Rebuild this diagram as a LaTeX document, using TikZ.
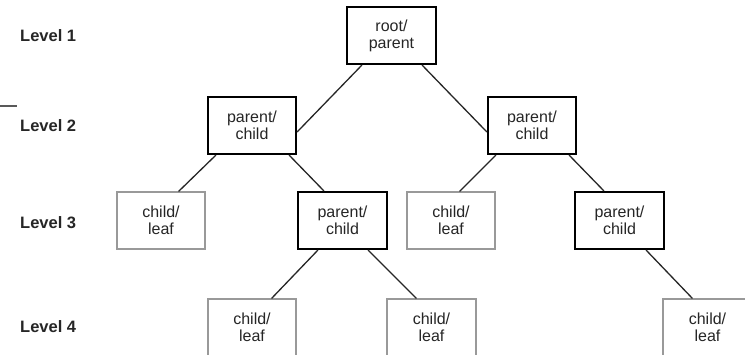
\documentclass[tikz,border=0pt]{standalone}
\usepackage{fontspec}
\setmainfont{Liberation Sans}
\usetikzlibrary{calc}
\begin{document}
\begin{tikzpicture}[x=1pt,y=-1pt,
  parentbox/.style={draw=black,line width=2.2pt,minimum width=88pt,minimum height=57pt,inner sep=0pt,align=center,font=\fontsize{16}{17}\selectfont,text=black!85},
  leafbox/.style={draw=black!40,line width=1.2pt,minimum width=88pt,minimum height=57pt,inner sep=0pt,align=center,font=\fontsize{16}{17}\selectfont,text=black!85},
  levellabel/.style={anchor=west,inner sep=0pt,font=\fontsize{16.5}{18}\selectfont\bfseries,text=black!85},
  conn/.style={draw=black!85,line width=1.3pt}]
\useasboundingbox (0,0) rectangle (745,354);
\clip (0,0) rectangle (745,354);
\fill[white] (0,0) rectangle (745,354);
% stray mark at left
\coordinate (m1) at (0,106);
\coordinate (m2) at (17,106);
\draw[black!65,line width=2pt] (m1) -- (m2);
% level labels
\node[levellabel] (lv1) at (20,36) {Level 1};
\node[levellabel] (lv2) at (20,126) {Level 2};
\node[levellabel] (lv3) at (20,222.5) {Level 3};
\node[levellabel] (lv4) at (20,327) {Level 4};
% boxes
\node[parentbox,minimum width=89pt] (root) at (391.5,35.5) {root/\\parent};
\node[parentbox] (l2a) at (252,125.5) {parent/\\child};
\node[parentbox] (l2b) at (532,125.5) {parent/\\child};
\node[leafbox] (l3a) at (161,220.5) {child/\\leaf};
\node[parentbox,minimum width=89pt] (l3b) at (342.5,220.5) {parent/\\child};
\node[leafbox] (l3c) at (451,220.5) {child/\\leaf};
\node[parentbox,minimum width=89pt] (l3d) at (619.5,220.5) {parent/\\child};
\node[leafbox] (l4a) at (252,327.5) {child/\\leaf};
\node[leafbox,minimum width=89pt] (l4b) at (431.5,327.5) {child/\\leaf};
\node[leafbox,minimum width=89pt] (l4c) at (707.5,327.5) {child/\\leaf};
% connectors
\draw[conn] ($(root.south west)+(16,0)$) -- ($(l2a.east)+(0,6.5)$);
\draw[conn] ($(root.south east)+(-15,0)$) -- ($(l2b.west)+(0,6.5)$);
\draw[conn] ($(l2a.south west)+(9,0)$) -- ($(l3a.north east)+(-27,0)$);
\draw[conn] ($(l2a.south east)+(-8,0)$) -- ($(l3b.north west)+(27,0)$);
\draw[conn] ($(l2b.south west)+(9,0)$) -- ($(l3c.north east)+(-36,0)$);
\draw[conn] ($(l2b.south east)+(-8,0)$) -- ($(l3d.north west)+(30,0)$);
\draw[conn] ($(l3b.south west)+(21,0)$) -- ($(l4a.north east)+(-25,0)$);
\draw[conn] ($(l3b.south east)+(-20,0)$) -- ($(l4b.north west)+(30,0)$);
\draw[conn] ($(l3d.south east)+(-19,0)$) -- ($(l4c.north west)+(30,0)$);
\end{tikzpicture}
\end{document}
